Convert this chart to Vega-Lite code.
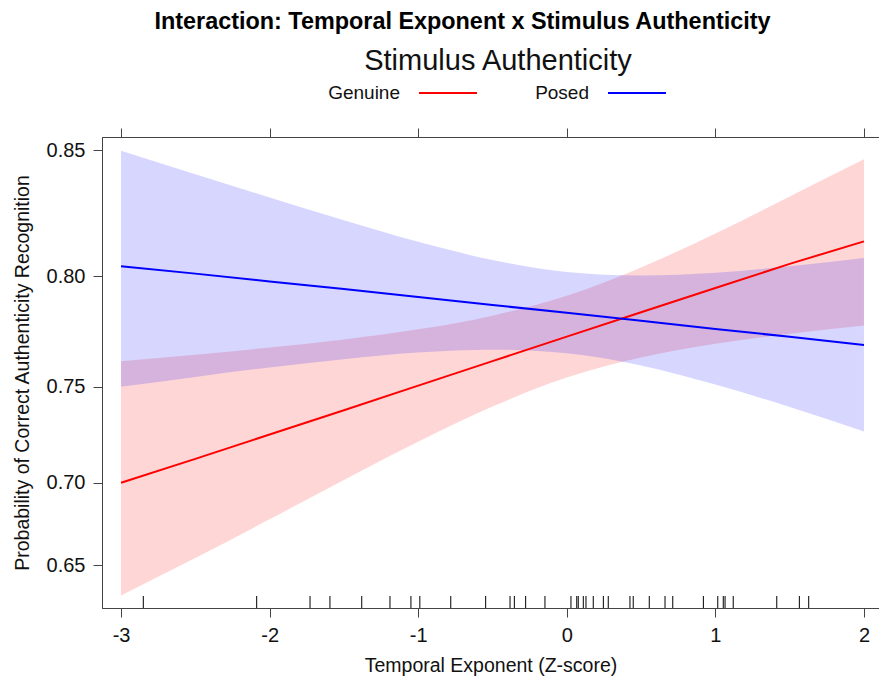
{
  "$schema": "https://vega.github.io/schema/vega-lite/v6.json",
  "width": 777,
  "height": 471,
  "autosize": {"type": "none"},
  "padding": {"left": 102, "top": 137, "right": 0, "bottom": 72},
  "background": "white",
  "config": {
    "font": "Liberation Sans",
    "view": {"stroke": "#444", "strokeWidth": 1},
    "axis": {
      "grid": false,
      "domainColor": "#444",
      "tickColor": "#444",
      "tickSize": 9,
      "labelFont": "Liberation Sans",
      "labelFontSize": 20,
      "labelColor": "#111",
      "titleFont": "Liberation Sans",
      "titleFontSize": 19.5,
      "titleFontWeight": "normal",
      "titleColor": "#111"
    }
  },
  "title": {
    "text": "Interaction: Temporal Exponent x Stimulus Authenticity",
    "font": "Liberation Sans",
    "fontSize": 23.4,
    "fontWeight": "bold",
    "color": "#000",
    "anchor": "middle",
    "frame": "group",
    "dx": -28,
    "offset": 13
  },
  "datasets": {
    "effects": [
      {"x": -3, "group": "Genuine", "fit": 0.7, "lower": 0.6295, "upper": 0.7621},
      {"x": -2.5, "group": "Genuine", "fit": 0.7131, "lower": 0.6547, "upper": 0.7652},
      {"x": -2, "group": "Genuine", "fit": 0.726, "lower": 0.6788, "upper": 0.7685},
      {"x": -1.5, "group": "Genuine", "fit": 0.7384, "lower": 0.7015, "upper": 0.7722},
      {"x": -1, "group": "Genuine", "fit": 0.7505, "lower": 0.7222, "upper": 0.7768},
      {"x": -0.5, "group": "Genuine", "fit": 0.7622, "lower": 0.7402, "upper": 0.7829},
      {"x": 0, "group": "Genuine", "fit": 0.7735, "lower": 0.7544, "upper": 0.7916},
      {"x": 0.5, "group": "Genuine", "fit": 0.7844, "lower": 0.7639, "upper": 0.8037},
      {"x": 1, "group": "Genuine", "fit": 0.795, "lower": 0.7702, "upper": 0.8177},
      {"x": 1.5, "group": "Genuine", "fit": 0.8052, "lower": 0.7748, "upper": 0.8324},
      {"x": 2, "group": "Genuine", "fit": 0.8145, "lower": 0.7785, "upper": 0.8466},
      {"x": -3, "group": "Posed", "fit": 0.8042, "lower": 0.7499, "upper": 0.8498},
      {"x": -2.5, "group": "Posed", "fit": 0.8011, "lower": 0.7547, "upper": 0.841},
      {"x": -2, "group": "Posed", "fit": 0.7978, "lower": 0.7592, "upper": 0.832},
      {"x": -1.5, "group": "Posed", "fit": 0.7945, "lower": 0.7631, "upper": 0.823},
      {"x": -1, "group": "Posed", "fit": 0.7911, "lower": 0.7662, "upper": 0.8143},
      {"x": -0.5, "group": "Posed", "fit": 0.7876, "lower": 0.7675, "upper": 0.8068},
      {"x": 0, "group": "Posed", "fit": 0.7842, "lower": 0.7658, "upper": 0.8018},
      {"x": 0.5, "group": "Posed", "fit": 0.7806, "lower": 0.7601, "upper": 0.8003},
      {"x": 1, "group": "Posed", "fit": 0.777, "lower": 0.751, "upper": 0.8015},
      {"x": 1.5, "group": "Posed", "fit": 0.7734, "lower": 0.74, "upper": 0.8042},
      {"x": 2, "group": "Posed", "fit": 0.7697, "lower": 0.7276, "upper": 0.8076}
    ],
    "rug": [
      {"x": -2.85}, {"x": -2.087}, {"x": -1.728}, {"x": -1.594}, {"x": -1.38},
      {"x": -1.19}, {"x": -1.049}, {"x": -0.989}, {"x": -0.781}, {"x": -0.546},
      {"x": -0.382}, {"x": -0.353}, {"x": -0.277}, {"x": -0.147}, {"x": 0.028},
      {"x": 0.067}, {"x": 0.077}, {"x": 0.111}, {"x": 0.129}, {"x": 0.178},
      {"x": 0.246}, {"x": 0.279}, {"x": 0.425}, {"x": 0.447}, {"x": 0.555},
      {"x": 0.661}, {"x": 0.713}, {"x": 0.919}, {"x": 1.016}, {"x": 1.053},
      {"x": 1.065}, {"x": 1.12}, {"x": 1.413}, {"x": 1.565}, {"x": 1.628}
    ]
  },
  "resolve": {"axis": {"x": "independent", "y": "independent"}},
  "layer": [
    {
      "data": {"name": "effects"},
      "mark": {"type": "area", "opacity": 0.16, "interpolate": "monotone"},
      "encoding": {
        "x": {
          "field": "x", "type": "quantitative",
          "scale": {"domain": [-3.128, 2.101], "nice": false, "zero": false},
          "axis": {
            "orient": "bottom",
            "values": [-3, -2, -1, 0, 1, 2],
            "labelExpr": "'' + datum.value",
            "labelPadding": 8,
            "title": "Temporal Exponent (Z-score)",
            "titlePadding": 11
          }
        },
        "y": {
          "field": "lower", "type": "quantitative",
          "scale": {"type": "pow", "exponent": 3.1, "domain": [0.62066, 0.85493], "nice": false, "zero": false},
          "axis": {
            "orient": "left",
            "values": [0.65, 0.7, 0.75, 0.8, 0.85],
            "format": ".2f",
            "labelPadding": 8,
            "title": "Probability of Correct Authenticity Recognition",
            "titlePadding": 14
          }
        },
        "y2": {"field": "upper"},
        "color": {
          "field": "group", "type": "nominal",
          "scale": {"domain": ["Genuine", "Posed"], "range": ["#ff0000", "#0000ff"]},
          "legend": {
            "orient": "none",
            "legendX": 224,
            "legendY": -90,
            "direction": "horizontal",
            "title": "Stimulus Authenticity",
            "titleFontSize": 29,
            "titleFontWeight": "normal",
            "titleColor": "#111",
            "titleAnchor": "middle",
            "titleLimit": 500,
            "titlePadding": -13,
            "labelFontSize": 19,
            "labelColor": "#111",
            "labelAlign": "right",
            "labelOffset": -78,
            "symbolOffset": 92,
            "symbolType": "stroke",
            "symbolSize": 3364,
            "symbolStrokeWidth": 2,
            "symbolOpacity": 1,
            "columnPadding": 34
          }
        }
      }
    },
    {
      "data": {"name": "effects"},
      "mark": {"type": "line", "strokeWidth": 2},
      "encoding": {
        "x": {
          "field": "x", "type": "quantitative",
          "axis": {"orient": "top", "values": [-3, -2, -1, 0, 1, 2], "labels": false, "title": null}
        },
        "y": {
          "field": "fit", "type": "quantitative",
          "axis": {"orient": "right", "values": [0.65, 0.7, 0.75, 0.8, 0.85], "labels": false, "title": null}
        },
        "color": {"field": "group", "type": "nominal"}
      }
    },
    {
      "data": {"name": "rug"},
      "mark": {"type": "rule", "color": "#000", "strokeWidth": 1},
      "encoding": {
        "x": {"field": "x", "type": "quantitative", "axis": null},
        "y": {"value": "height"},
        "y2": {"value": {"expr": "height - 12"}}
      }
    }
  ]
}
